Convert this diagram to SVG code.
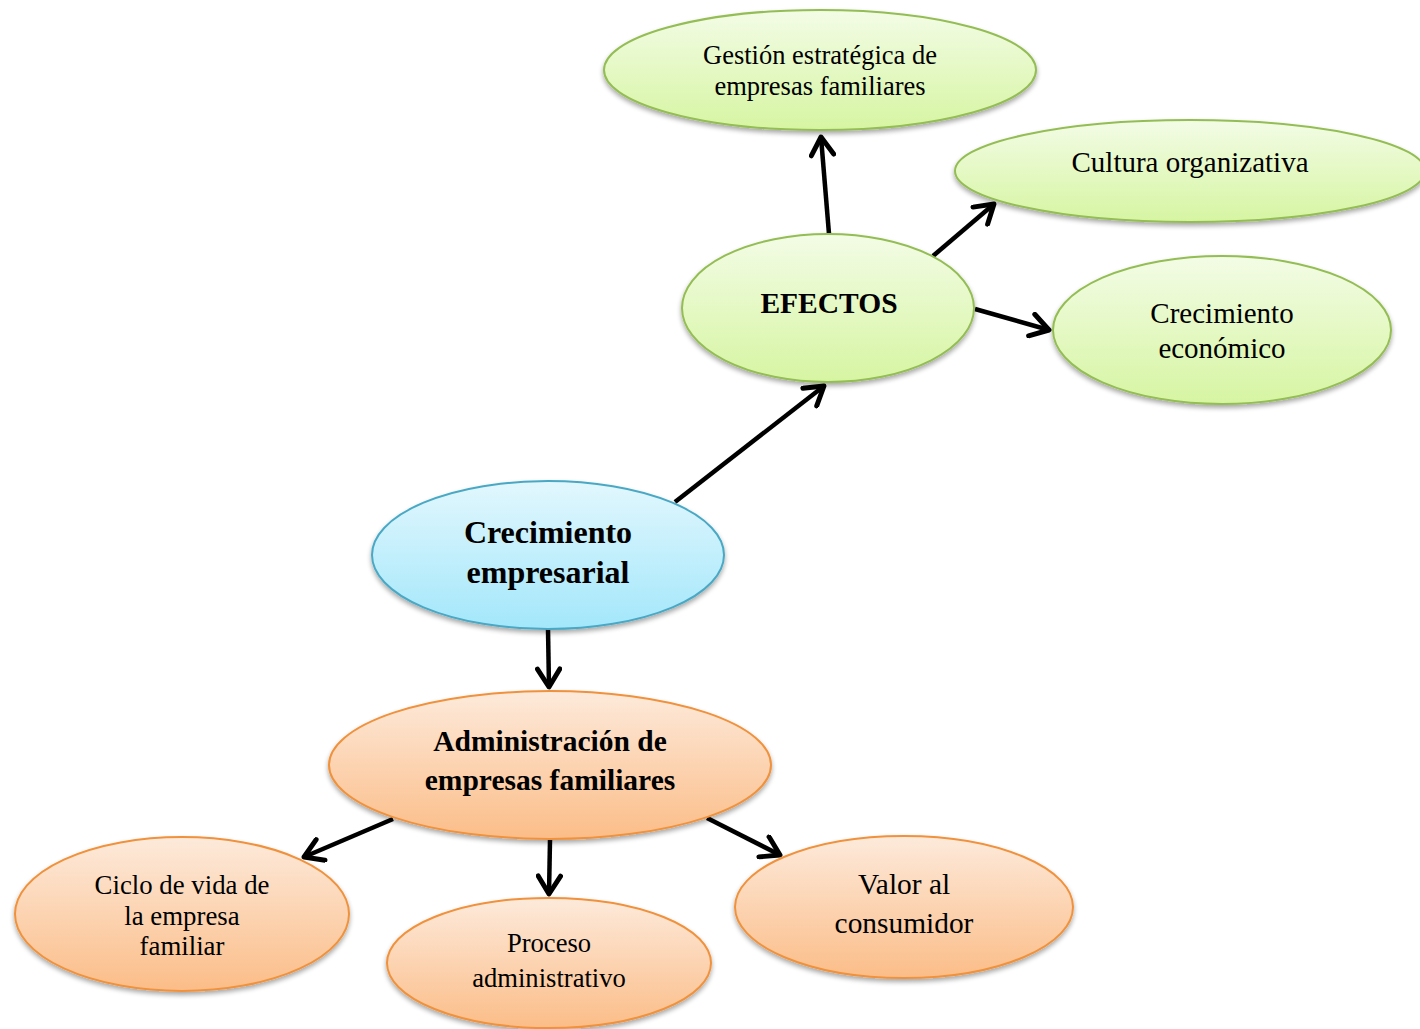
<svg xmlns="http://www.w3.org/2000/svg" width="1420" height="1029" viewBox="0 0 1420 1029">
  <defs>
    <linearGradient id="gGreen" x1="0" y1="0" x2="0" y2="1">
      <stop offset="0" stop-color="#f3fce6"/>
      <stop offset="1" stop-color="#d6f5a2"/>
    </linearGradient>
    <linearGradient id="gOrange" x1="0" y1="0" x2="0" y2="1">
      <stop offset="0" stop-color="#fdeadb"/>
      <stop offset="1" stop-color="#fbbd88"/>
    </linearGradient>
    <linearGradient id="gBlue" x1="0" y1="0" x2="0" y2="1">
      <stop offset="0" stop-color="#e2f7fd"/>
      <stop offset="1" stop-color="#a3e7fb"/>
    </linearGradient>
    <filter id="shadow" x="-10%" y="-10%" width="120%" height="130%">
      <feGaussianBlur in="SourceAlpha" stdDeviation="2.5"/>
      <feOffset dx="0" dy="3" result="b"/>
      <feComponentTransfer><feFuncA type="linear" slope="0.35"/></feComponentTransfer>
      <feMerge><feMergeNode/><feMergeNode in="SourceGraphic"/></feMerge>
    </filter>
    <marker id="arrow" viewBox="0 0 12 12" refX="10" refY="6" markerWidth="6" markerHeight="6" markerUnits="strokeWidth" orient="auto">
      <path d="M2,1 L10,6 L2,11" fill="none" stroke="#000" stroke-width="2.2" stroke-linecap="round" stroke-linejoin="round"/>
    </marker>
  </defs>
  <style>
    .green { fill: url(#gGreen); stroke: #94bd54; stroke-width: 2; filter: url(#shadow); }
    .orange { fill: url(#gOrange); stroke: #f0923c; stroke-width: 2; filter: url(#shadow); }
    .blue { fill: url(#gBlue); stroke: #4aa8c4; stroke-width: 2; filter: url(#shadow); }
    text { font-family: "Liberation Serif", "Times New Roman", serif; fill: #000; text-anchor: middle; }
    .b { font-weight: bold; }
    .conn line { stroke: #000; stroke-width: 4.5; marker-end: url(#arrow); }
  </style>

  <rect width="1420" height="1029" fill="#ffffff"/>

  <g id="connectors" class="conn">
    <line x1="675" y1="502" x2="824" y2="386"/>
    <line x1="829" y1="234" x2="821" y2="137"/>
    <line x1="933" y1="256" x2="994" y2="204"/>
    <line x1="975" y1="309" x2="1049" y2="330"/>
    <line x1="548" y1="629" x2="549" y2="687"/>
    <line x1="393" y1="819" x2="304" y2="857"/>
    <line x1="550" y1="840" x2="549" y2="894"/>
    <line x1="707" y1="818" x2="780" y2="855"/>
  </g>

  <g id="gestion">
    <ellipse class="green" cx="820" cy="70" rx="216" ry="60"/>
    <text x="820" y="64" font-size="26.5">Gestión estratégica de</text>
    <text x="820" y="95" font-size="26.5">empresas familiares</text>
  </g>

  <g id="cultura">
    <ellipse class="green" cx="1190" cy="171" rx="235" ry="51"/>
    <text x="1190" y="172" font-size="29">Cultura organizativa</text>
  </g>

  <g id="efectos">
    <ellipse class="green" cx="828" cy="308" rx="146" ry="74"/>
    <text class="b" x="829" y="313" font-size="29.5">EFECTOS</text>
  </g>

  <g id="crecimiento-economico">
    <ellipse class="green" cx="1222" cy="330" rx="169" ry="74"/>
    <text x="1222" y="323" font-size="29">Crecimiento</text>
    <text x="1222" y="358" font-size="29">económico</text>
  </g>

  <g id="crecimiento-empresarial">
    <ellipse class="blue" cx="548" cy="555" rx="176" ry="74"/>
    <text class="b" x="548" y="543" font-size="32">Crecimiento</text>
    <text class="b" x="548" y="583" font-size="32">empresarial</text>
  </g>

  <g id="administracion">
    <ellipse class="orange" cx="550" cy="765" rx="221" ry="74"/>
    <text class="b" x="550" y="751" font-size="29.5">Administración de</text>
    <text class="b" x="550" y="790" font-size="29.5">empresas familiares</text>
  </g>

  <g id="ciclo">
    <ellipse class="orange" cx="182" cy="914" rx="167" ry="77"/>
    <text x="182" y="894" font-size="26.8">Ciclo de vida de</text>
    <text x="182" y="925" font-size="26.8">la empresa</text>
    <text x="182" y="955" font-size="26.8">familiar</text>
  </g>

  <g id="proceso">
    <ellipse class="orange" cx="549" cy="963" rx="162" ry="65"/>
    <text x="549" y="952" font-size="26.6">Proceso</text>
    <text x="549" y="987" font-size="26.6">administrativo</text>
  </g>

  <g id="valor">
    <ellipse class="orange" cx="904" cy="907" rx="169" ry="71"/>
    <text x="904" y="894" font-size="29.4">Valor al</text>
    <text x="904" y="933" font-size="29.4">consumidor</text>
  </g>
</svg>
